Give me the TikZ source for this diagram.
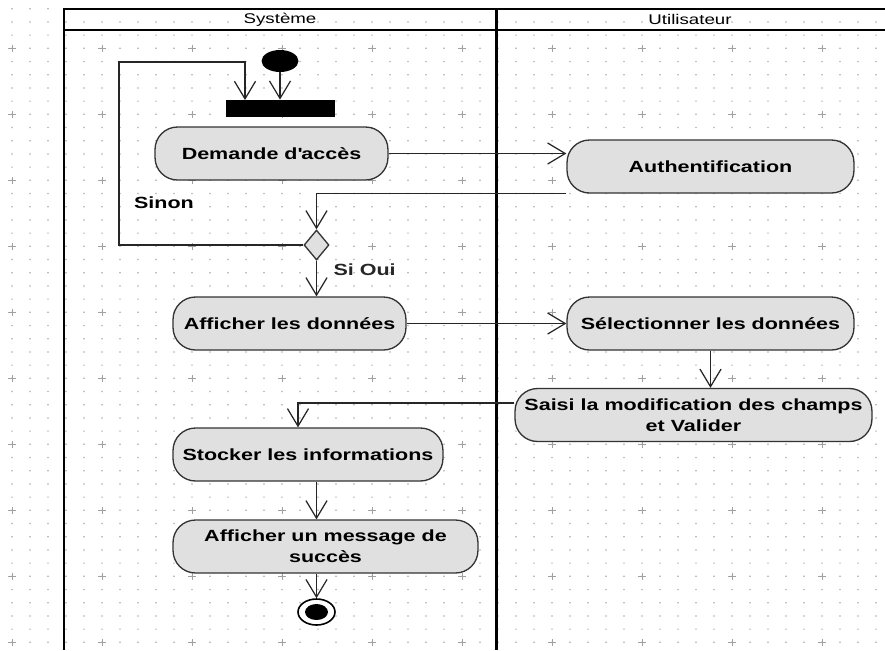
\documentclass[tikz,border=0pt]{standalone}
\usepackage{fontspec}
\setmainfont{Liberation Sans}[FakeStretch=1.33]
\usepackage{xcolor}
\usepackage{tikz}
\usetikzlibrary{positioning, arrows.meta, shapes.geometric, calc}

\definecolor{actgray}{HTML}{E0E0E0}
\definecolor{gridgray}{HTML}{A0A0A0}

\begin{document}
\begin{tikzpicture}[
    x=0.02cm, y=-0.02cm,
    flow/.style={-{Straight Barb[length=10pt, width=12pt]}, line width=0.7pt, black!85},
    lane_line/.style={line width=1.7pt, black},
    node_action/.style={rectangle, rounded corners=0.45cm, draw=black!80, line width=0.75pt,
        fill=actgray, minimum height=1.06cm, align=center, inner sep=2pt,
        font=\bfseries\fontsize{9.2}{12}\selectfont},
    node_label/.style={font=\bfseries\fontsize{9.2}{12}\selectfont},
    node_lane/.style={font=\fontsize{8}{10}\selectfont},
    node_start/.style={ellipse, fill=black, minimum width=0.74cm, minimum height=0.44cm, inner sep=0pt},
    node_bar/.style={rectangle, fill=black, minimum width=2.18cm, minimum height=0.34cm, inner sep=0pt},
    node_decision/.style={diamond, draw=black!80, line width=0.75pt, fill=actgray, aspect=0.83,
        minimum width=0.5cm, minimum height=0.6cm, inner sep=0pt},
    node_end/.style={ellipse, draw=black, line width=0.9pt, fill=white, minimum width=0.74cm,
        minimum height=0.52cm, inner sep=0pt}
]
\useasboundingbox (0,0) rectangle (885,650);
\fill[white] (0,0) rectangle (885,650);

% grille de fond
\fill[gridgray] \foreach \i in {0,...,48} {\foreach \j in {0,...,48}
    {(12+18*\i-0.6, 8.7+13.2*\j-0.6) rectangle ++(1.2,1.2)}};
\foreach \i in {0,...,9} {
    \foreach \j in {0,...,9} {
        \draw[gridgray, line width=0.4pt] (12+90*\i-4, 48.3+66*\j) -- ++(8,0)
            (12+90*\i, 48.3+66*\j-3.5) -- ++(0,7);
    }
}

% couloirs
\draw[lane_line] (64,650) -- (64,9) -- (885,9);
\draw[lane_line] (64,30) -- (885,30);
\draw[lane_line] (496,9) -- (496,650);
\node[node_lane] (lane_sys) at (280,19.5) {Système};
\node[node_lane] (lane_usr) at (690,19.5) {Utilisateur};

% noeuds
\node[node_start] (start) at (280,61) {};
\node[node_bar] (bar) at (280.5,108.5) {};
\node[node_action, minimum width=4.66cm] (dem) at (271.5,153.5) {Demande d\textquotesingle accès};
\node[node_action, minimum width=5.74cm] (auth) at (710.5,166.5) {Authentification};
\node[node_decision] (dec) at (316.5,245) {};
\node[node_action, minimum width=4.66cm] (aff) at (289.5,323.5) {Afficher les données};
\node[node_action, minimum width=5.74cm] (sel) at (710.5,323.5) {Sélectionner les données};
\node[node_action, minimum width=7.14cm] (sai) at (693.5,415) {Saisi la modification des champs\\et Valider};
\node[node_action, minimum width=5.4cm] (sto) at (308,454.5) {Stocker les informations};
\node[node_action, minimum width=6.1cm] (msg) at (325.5,546.5) {Afficher un message de\\succès};
\node[node_end] (end) at (316.5,612) {};
\node[ellipse, fill=black, minimum width=0.46cm, minimum height=0.32cm, inner sep=0pt] (end_dot) at (end) {};
\node[node_label] (lbl_sinon) at (164,203) {Sinon};

\coordinate (loop_top) at (119,62);
\coordinate (bar_in) at (245,100);

% transitions
\draw[flow] (start.south) -- (start.south |- bar.north);
\draw[flow] (dec.west) -| (loop_top) -| (bar_in);
\draw[flow] (dem.east) -- (dem.east -| auth.west);
\draw[flow] (auth.south west) -| (dec.north);
\draw[flow] (dec.south) -- node[node_label, right=6pt, pos=0.25] {Si Oui} (dec.south |- aff.north);
\draw[flow] (aff.east) -- (aff.east -| sel.west);
\draw[flow] (sel.south) -- (sel.south |- sai.north);
\draw[flow] ($(sai.west)+(0,-12)$) -| ($(sto.north)+(-10,0)$);
\draw[flow] (sto.south -| dec.center) -- (msg.north -| dec.center);
\draw[flow] (msg.south -| end.north) -- (end.north);
\end{tikzpicture}
\end{document}
